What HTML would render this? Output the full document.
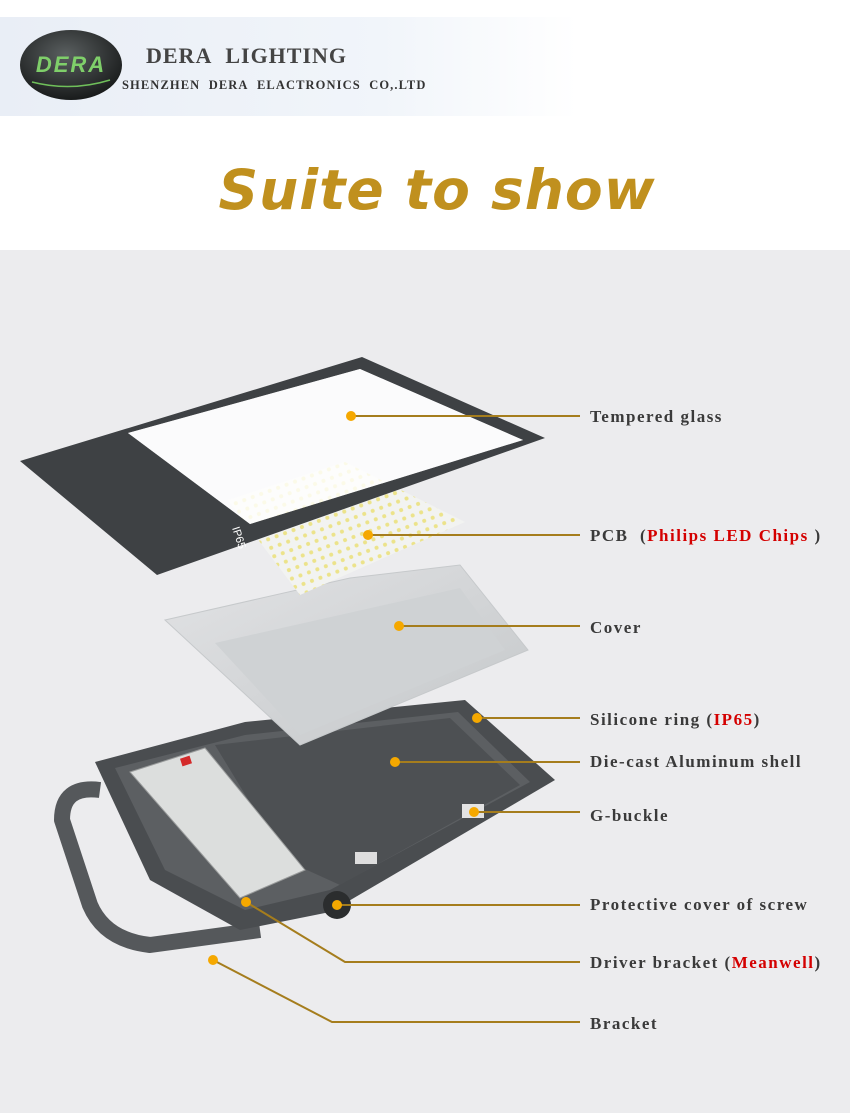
<!DOCTYPE html>
<html><head><meta charset="utf-8"><style>
html,body{margin:0;padding:0;width:850px;height:1113px;overflow:hidden;background:#fff}
</style></head><body>
<svg width="850" height="1113" viewBox="0 0 850 1113" xmlns="http://www.w3.org/2000/svg">
<defs>
<linearGradient id="hdr" x1="0" x2="1" y1="0" y2="0">
<stop offset="0" stop-color="#e9eef6"/><stop offset="0.45" stop-color="#f1f5fa"/><stop offset="0.68" stop-color="#ffffff"/></linearGradient>
<radialGradient id="logo" cx="0.45" cy="0.35" r="0.7"><stop offset="0" stop-color="#5a5f60"/><stop offset="1" stop-color="#141616"/></radialGradient>
<pattern id="leds" width="9" height="9" patternUnits="userSpaceOnUse" patternTransform="rotate(-20)">
<rect width="9" height="9" fill="#f2f3f1"/><circle cx="4.5" cy="4.5" r="2" fill="#ece38a"/></pattern>
<linearGradient id="cov" x1="0" y1="0" x2="1" y2="1"><stop offset="0" stop-color="#e2e3e5"/><stop offset="1" stop-color="#c4c7c9"/></linearGradient>
</defs>
<rect width="850" height="1113" fill="#fff"/>
<rect x="0" y="17" width="850" height="99" fill="url(#hdr)"/>
<ellipse cx="71" cy="65" rx="51" ry="35" fill="url(#logo)"/>
<text x="71" y="72" text-anchor="middle" font-family="Liberation Sans,sans-serif" font-weight="bold" font-style="italic" font-size="22" fill="#7fcf6a" letter-spacing="2">DERA</text>
<path d="M32 82 Q71 92 110 80" stroke="#6fbf5a" stroke-width="1.5" fill="none"/>
<text x="146" y="63" font-family="Liberation Serif,serif" font-size="22" font-weight="bold" fill="#444" letter-spacing="1">DERA&#160;&#160;LIGHTING</text>
<text x="122" y="89" font-family="Liberation Serif,serif" font-size="12.5" font-weight="bold" fill="#333" letter-spacing="1.1">SHENZHEN&#160; DERA&#160; ELACTRONICS&#160; CO,.LTD</text>
<text x="437" y="209" text-anchor="middle" font-family="DejaVu Sans,sans-serif" font-style="italic" font-weight="bold" font-size="55" fill="#c0901e" letter-spacing="1">Suite to show</text>
<rect x="0" y="250" width="850" height="863" fill="#ececee"/>

<!-- shell + bracket -->
<path d="M100 790 Q62 785 62 820 L90 905 Q105 940 150 945 L260 930" stroke="#55585b" stroke-width="16" fill="none" stroke-linejoin="round"/>
<polygon points="95,762 245,722 465,700 555,780 330,912 240,930 150,880" fill="#4a4d50"/>
<polygon points="115,768 245,735 458,712 530,782 330,890 245,910 165,870" fill="#5c5f62"/>
<polygon points="215,745 450,718 520,785 340,885 285,860" fill="#4d5053"/>
<polygon points="130,772 205,748 305,870 240,898" fill="#dcdedd" stroke="#9a9c9c"/>
<rect x="181" y="757" width="10" height="8" fill="#d42a2a" transform="rotate(-18 186 761)"/>
<circle cx="337" cy="905" r="14" fill="#2b2d2e"/>
<rect x="462" y="804" width="22" height="14" fill="#e3e3e3"/>
<rect x="355" y="852" width="22" height="12" fill="#dedede"/>

<!-- cover -->
<polygon points="165,620 350,578 460,565 528,650 300,745" fill="url(#cov)" stroke="#c6c9cb"/>
<polygon points="215,643 460,588 505,650 300,735" fill="#cfd2d4"/>

<!-- PCB -->
<polygon points="228,500 345,462 465,522 300,595" fill="url(#leds)"/>

<!-- glass -->
<path fill-rule="evenodd" fill="#3e4144" d="M20,461 L362,357 L545,438 L157,575 Z M128,433 L360,369 L523,440 L250,524 Z"/>
<polygon points="128,433 360,369 523,440 250,524" fill="#ffffff" opacity="0.8"/>
<text x="232" y="528" font-family="Liberation Sans,sans-serif" font-size="11" fill="#fff" transform="rotate(72 232 528)">IP65</text>

<!-- connectors -->
<g stroke="#a57d1d" stroke-width="2" fill="none">
<line x1="351" y1="416" x2="580" y2="416"/>
<line x1="368" y1="535" x2="580" y2="535"/>
<line x1="399" y1="626" x2="580" y2="626"/>
<line x1="477" y1="718" x2="580" y2="718"/>
<line x1="395" y1="762" x2="580" y2="762"/>
<line x1="474" y1="812" x2="580" y2="812"/>
<line x1="337" y1="905" x2="580" y2="905"/>
<polyline points="246,902 345,962 580,962"/>
<polyline points="213,960 332,1022 580,1022"/>
</g>
<g fill="#f5a800">
<circle cx="351" cy="416" r="5"/><circle cx="368" cy="535" r="5"/><circle cx="399" cy="626" r="5"/>
<circle cx="477" cy="718" r="5"/><circle cx="395" cy="762" r="5"/><circle cx="474" cy="812" r="5"/>
<circle cx="337" cy="905" r="5"/><circle cx="246" cy="902" r="5"/><circle cx="213" cy="960" r="5"/>
</g>
<g font-family="Liberation Serif,serif" font-weight="bold" font-size="17" fill="#3a3a3a" letter-spacing="1.5">
<text x="590" y="422">Tempered glass</text>
<text x="590" y="541">PCB &#160;(<tspan fill="#d40000">Philips LED Chips</tspan> )</text>
<text x="590" y="633">Cover</text>
<text x="590" y="725">Silicone ring (<tspan fill="#d40000">IP65</tspan>)</text>
<text x="590" y="767">Die-cast Aluminum shell</text>
<text x="590" y="821">G-buckle</text>
<text x="590" y="910">Protective cover of screw</text>
<text x="590" y="968">Driver bracket (<tspan fill="#d40000">Meanwell</tspan>)</text>
<text x="590" y="1029">Bracket</text>
</g>
</svg>
</body></html>
